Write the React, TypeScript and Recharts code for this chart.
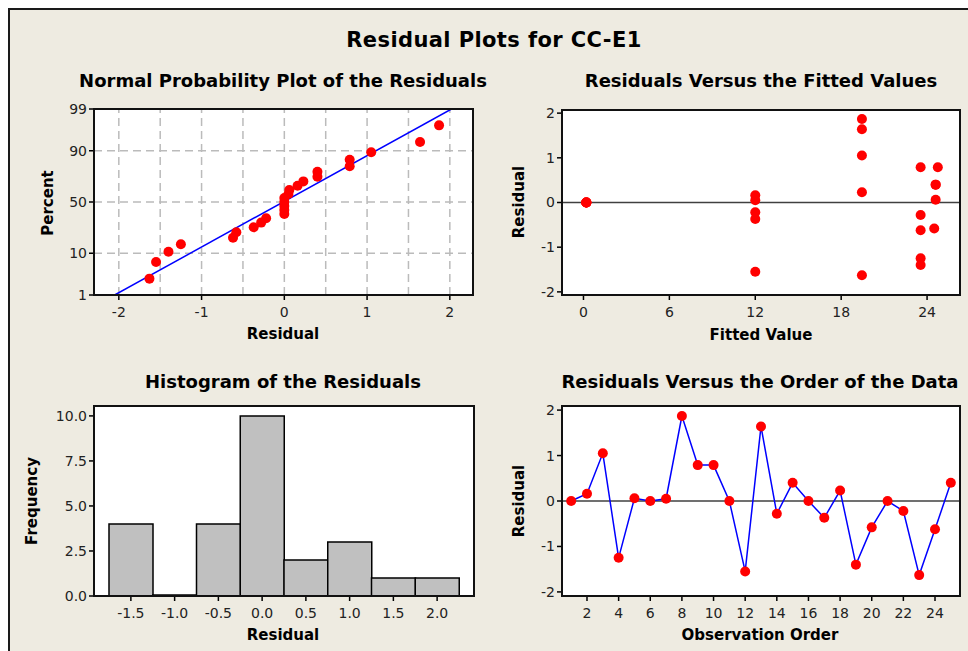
import React from 'react';
import {
  ScatterChart, Scatter, XAxis, YAxis, ReferenceLine, BarChart, Bar, LineChart, Line,
} from 'recharts';

// ---------- data ----------
const observationOrder = [1, 2, 3, 4, 5, 6, 7, 8, 9, 10, 11, 12, 13, 14, 15, 16, 17, 18, 19, 20, 21, 22, 23, 24, 25];
const residuals = [0.0, 0.16, 1.05, -1.25, 0.06, 0.0, 0.05, 1.87, 0.79, 0.79, 0.0, -1.55, 1.64, -0.28, 0.4, 0.0, -0.37, 0.23, -1.4, -0.58, 0.0, -0.22, -1.63, -0.62, 0.4];
const fittedValues = [0.2, 12.0, 19.45, 23.55, 24.6, 0.2, 12.0, 19.45, 23.55, 24.75, 0.2, 12.0, 19.45, 23.55, 24.6, 0.2, 12.0, 19.45, 23.55, 24.5, 0.2, 12.0, 19.45, 23.55, 24.6];
// plotted percentages of the ordered residuals (normal probability plot)
const probPercents = [2.76, 6.69, 10.63, 14.57, 18.5, 22.44, 26.38, 30.31, 34.25, 38.19, 42.13, 46.06, 50.0, 53.94, 57.87, 61.81, 65.75, 69.69, 73.62, 77.56, 81.5, 85.43, 89.37, 93.31, 97.24];
const fitLineResidual = [-2.05, 2.02];
const fitLinePercent = [1, 99];
const percentTicks = [1, 10, 50, 90, 99];
const percentGrid = [10, 50, 90];
const residualTicks = [-2, -1, 0, 1, 2];
const residualGrid = [-2, -1.5, -1, -0.5, 0, 0.5, 1, 1.5, 2];
const fittedTicks = [0, 6, 12, 18, 24];
const orderTicks = [2, 4, 6, 8, 10, 12, 14, 16, 18, 20, 22, 24];
const histBins = ['-1.5', '-1.0', '-0.5', '0.0', '0.5', '1.0', '1.5', '2.0'];
const histCounts = [4, 0, 4, 10, 2, 3, 1, 1];
const freqTicks = [0, 2.5, 5, 7.5, 10];

// inverse standard normal CDF (probability-axis transform)
function probit(p: number): number {
  const a = [-3.969683028665376e1, 2.209460984245205e2, -2.759285104469687e2, 1.38357751867269e2, -3.066479806614716e1, 2.506628277459239];
  const b = [-5.447609879822406e1, 1.615858368580409e2, -1.556989798598866e2, 6.680131188771972e1, -1.328068155288572e1];
  const c = [-7.784894002430293e-3, -3.223964580411365e-1, -2.400758277161838, -2.549732539343734, 4.374664141464968, 2.938163982698783];
  const d = [7.784695709041462e-3, 3.224671290700398e-1, 2.445134137142996, 3.754408661907416];
  const pl = 0.02425;
  if (p < pl) {
    const q = Math.sqrt(-2 * Math.log(p));
    return (((((c[0] * q + c[1]) * q + c[2]) * q + c[3]) * q + c[4]) * q + c[5]) / ((((d[0] * q + d[1]) * q + d[2]) * q + d[3]) * q + 1);
  }
  if (p <= 1 - pl) {
    const q = p - 0.5;
    const r = q * q;
    return ((((((a[0] * r + a[1]) * r + a[2]) * r + a[3]) * r + a[4]) * r + a[5]) * q) / (((((b[0] * r + b[1]) * r + b[2]) * r + b[3]) * r + b[4]) * r + 1);
  }
  const q = Math.sqrt(-2 * Math.log(1 - p));
  return -(((((c[0] * q + c[1]) * q + c[2]) * q + c[3]) * q + c[4]) * q + c[5]) / ((((d[0] * q + d[1]) * q + d[2]) * q + d[3]) * q + 1);
}

const sortedResiduals = [...residuals].sort((x, y) => x - y);
const probData = sortedResiduals.map((r, i) => ({ x: r, z: probit(probPercents[i] / 100) }));
const fitLineData = fitLineResidual.map((r, i) => ({ x: r, z: probit(fitLinePercent[i] / 100) }));
const zTicks = percentTicks.map((p) => probit(p / 100));
const fittedData = fittedValues.map((f, i) => ({ f, r: residuals[i] }));
const orderData = observationOrder.map((o, i) => ({ o, r: residuals[i] }));
const histData = histBins.map((bin, i) => ({ bin, count: histCounts[i] }));

// ---------- styles ----------
const FONT = 'DejaVu Sans';
const BG = '#EEEBE1';
const RED = '#FF0000';
const BLUE = '#0000FF';
const tickStyle = { fill: '#222', fontSize: 14, fontFamily: FONT };
const tickLine = { stroke: '#000', strokeWidth: 1.5 };

type Box = { x: number; y: number; w: number; h: number };
const P1: Box = { x: 94, y: 109, w: 379, h: 186 };
const P2: Box = { x: 562, y: 110, w: 398, h: 185 };
const P3: Box = { x: 94, y: 406, w: 380, h: 190 };
const P4: Box = { x: 562, y: 406, w: 398, h: 190 };

const YW = 60, XH = 30, MT = 10, MR = 10;
const chartPos = (b: Box) => ({
  position: 'absolute' as const,
  left: b.x - YW,
  top: b.y - MT,
  width: YW + b.w + MR,
  height: MT + b.h + XH,
});
const dims = (b: Box) => ({ width: YW + b.w + MR, height: MT + b.h + XH });
const margin = { top: MT, right: MR, bottom: 0, left: 0 };

const RedDot = (p: any) => (
  <circle key={p.index} cx={p.cx} cy={p.cy} r={5} fill={RED} />
);

const xAxisCommon = {
  height: XH,
  axisLine: false,
  tickLine,
  tickSize: 5,
  tickMargin: 7,
  tick: tickStyle,
  interval: 0 as const,
};
const yAxisCommon = {
  width: YW,
  axisLine: false,
  tickLine,
  tickSize: 5,
  tickMargin: 2,
  tick: tickStyle,
  interval: 0 as const,
};

export default function App() {
  const boxes = [P1, P2, P3, P4];
  return (
    <div style={{ position: 'absolute', left: 0, top: 0, width: 968, height: 651, overflow: 'hidden', fontFamily: FONT }}>
      <svg width={968} height={651} style={{ position: 'absolute', left: 0, top: 0 }}>
        <rect x={9} y={9} width={1000} height={700} fill={BG} stroke="#1a1a1a" strokeWidth={2} />
        {boxes.map((b, i) => (
          <rect key={i} x={b.x} y={b.y} width={b.w} height={b.h} fill="#fff" />
        ))}
        <text x={494} y={47} textAnchor="middle" fontSize={21} fontWeight="bold" letterSpacing={0.4} fontFamily={FONT} fill="#000">
          Residual Plots for CC-E1
        </text>
        <g fontFamily={FONT} fontWeight="bold" fontSize={18} fill="#000" textAnchor="middle">
          <text x={283} y={87}>Normal Probability Plot of the Residuals</text>
          <text x={761} y={87}>Residuals Versus the Fitted Values</text>
          <text x={283} y={388}>Histogram of the Residuals</text>
          <text x={760} y={388}>Residuals Versus the Order of the Data</text>
        </g>
        <g fontFamily={FONT} fontWeight="bold" fontSize={15} fill="#000" textAnchor="middle">
          <text x={283} y={339}>Residual</text>
          <text x={761} y={340}>Fitted Value</text>
          <text x={283} y={640}>Residual</text>
          <text x={760} y={640}>Observation Order</text>
          <text x={52.5} y={203} transform="rotate(-90 52.5 203)">Percent</text>
          <text x={523.5} y={202} transform="rotate(-90 523.5 202)">Residual</text>
          <text x={37} y={501} transform="rotate(-90 37 501)">Frequency</text>
          <text x={523.5} y={501} transform="rotate(-90 523.5 501)">Residual</text>
        </g>
      </svg>

      {/* Normal probability plot */}
      <div style={chartPos(P1)}>
        <ScatterChart {...dims(P1)} margin={margin}>
          <XAxis {...xAxisCommon} type="number" dataKey="x" domain={[-2.3, 2.28]} ticks={residualTicks} allowDataOverflow />
          <YAxis
            {...yAxisCommon}
            type="number"
            dataKey="z"
            domain={[zTicks[0], zTicks[zTicks.length - 1]]}
            ticks={zTicks}
            allowDataOverflow
            tickFormatter={(v: number) => {
              let best = 0;
              zTicks.forEach((t, i) => { if (Math.abs(t - v) < Math.abs(zTicks[best] - v)) best = i; });
              return String(percentTicks[best]);
            }}
          />
          {residualGrid.map((g) => (
            <ReferenceLine key={'vx' + g} x={g} stroke="#BBBBBB" strokeWidth={1.5} strokeDasharray="8 5" />
          ))}
          {percentGrid.map((p) => (
            <ReferenceLine key={'hz' + p} y={probit(p / 100)} stroke="#BBBBBB" strokeWidth={1.5} strokeDasharray="8 5" />
          ))}
          <Scatter data={fitLineData} line={{ stroke: BLUE, strokeWidth: 1.5 }} shape={() => <g />} isAnimationActive={false} />
          <Scatter data={probData} shape={RedDot} isAnimationActive={false} />
        </ScatterChart>
      </div>

      {/* Residuals vs fitted */}
      <div style={chartPos(P2)}>
        <ScatterChart {...dims(P2)} margin={margin}>
          <XAxis {...xAxisCommon} type="number" dataKey="f" domain={[-1.5, 26.3]} ticks={fittedTicks} allowDataOverflow />
          <YAxis {...yAxisCommon} type="number" dataKey="r" domain={[-2.07, 2.07]} ticks={residualTicks} allowDataOverflow />
          <ReferenceLine y={0} stroke="#404040" strokeWidth={1.5} />
          <Scatter data={fittedData} shape={RedDot} isAnimationActive={false} />
        </ScatterChart>
      </div>

      {/* Histogram */}
      <div style={chartPos(P3)}>
        <BarChart {...dims(P3)} margin={margin} data={histData} barCategoryGap={0} barGap={0}>
          <XAxis {...xAxisCommon} type="category" dataKey="bin" padding={{ left: 15, right: 15 }} />
          <YAxis
            {...yAxisCommon}
            type="number"
            domain={[0, 10.55]}
            ticks={freqTicks}
            allowDataOverflow
            tickFormatter={(v: number) => v.toFixed(1)}
          />
          <Bar dataKey="count" fill="#C0C0C0" stroke="#000" strokeWidth={1.5} minPointSize={1} isAnimationActive={false} />
        </BarChart>
      </div>

      {/* Residuals vs order */}
      <div style={chartPos(P4)}>
        <LineChart {...dims(P4)} margin={margin} data={orderData}>
          <XAxis {...xAxisCommon} type="number" dataKey="o" domain={[0.42, 25.58]} ticks={orderTicks} allowDataOverflow />
          <YAxis {...yAxisCommon} type="number" domain={[-2.09, 2.09]} ticks={residualTicks} allowDataOverflow />
          <ReferenceLine y={0} stroke="#404040" strokeWidth={1.5} />
          <Line dataKey="r" stroke={BLUE} strokeWidth={1.5} dot={RedDot} activeDot={false} isAnimationActive={false} />
        </LineChart>
      </div>

      <svg width={968} height={651} style={{ position: 'absolute', left: 0, top: 0, pointerEvents: 'none' }}>
        {boxes.map((b, i) => (
          <rect key={i} x={b.x} y={b.y} width={b.w} height={b.h} fill="none" stroke="#111" strokeWidth={2} />
        ))}
      </svg>
    </div>
  );
}
